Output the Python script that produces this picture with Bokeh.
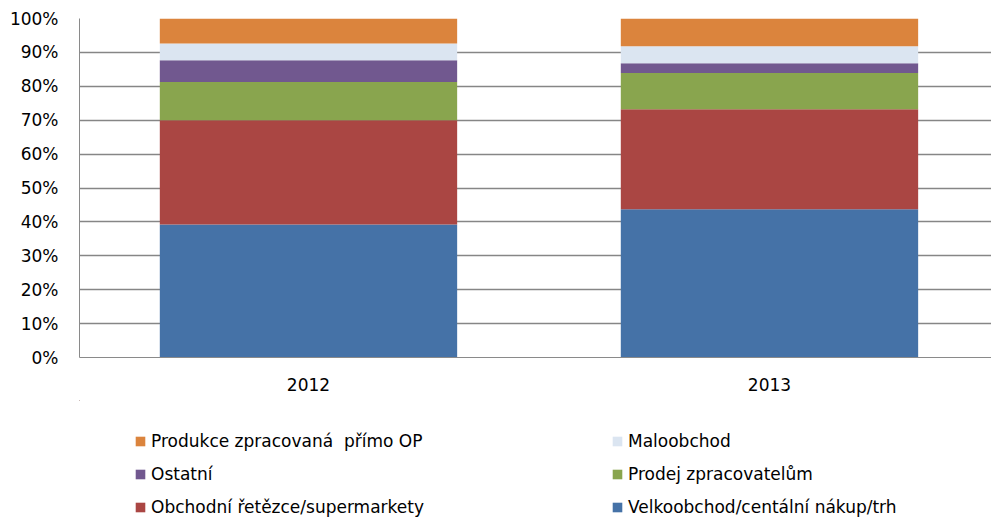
from bokeh.plotting import figure
from bokeh.layouts import column
from bokeh.models import ColumnDataSource, Range1d, FixedTicker, Legend, LegendItem, PrintfTickFormatter
from bokeh.embed import file_html
from bokeh.resources import INLINE

# ---- data ----
years = ["2012", "2013"]
series = [
    "Velkoobchod/centální nákup/trh",
    "Obchodní řetězce/supermarkety",
    "Prodej zpracovatelům",
    "Ostatní",
    "Maloobchod",
    "Produkce zpracovaná  přímo OP",
]
velkoobchod = [39.2, 43.7]
obchodni = [30.8, 29.5]
prodej = [11.3, 10.7]
ostatni = [6.4, 2.9]
maloobchod = [4.9, 5.0]
produkce = [7.4, 8.2]
y_ticks = [0, 10, 20, 30, 40, 50, 60, 70, 80, 90, 100]
# legend is filled column by column: left column first, then right column
legend_order = [
    "Produkce zpracovaná  přímo OP", "Ostatní", "Obchodní řetězce/supermarkety",
    "Maloobchod", "Prodej zpracovatelům", "Velkoobchod/centální nákup/trh",
]

colors = ["#4572A7", "#AA4643", "#89A54E", "#71588F", "#DBE5F1", "#DB843D"]
FONT = "DejaVu Sans"

keys = ["s0", "s1", "s2", "s3", "s4", "s5"]
xpos = list(range(len(years)))
src = ColumnDataSource(dict(x=xpos, s0=velkoobchod, s1=obchodni, s2=prodej,
                            s3=ostatni, s4=maloobchod, s5=produkce))

# ---- main chart ----
p = figure(width=991, height=400, output_backend="svg", toolbar_location=None,
           x_range=Range1d(-0.4967, 1.4816), y_range=Range1d(0, 100),
           min_border_left=79, min_border_right=0, min_border_top=18, min_border_bottom=43)
p.outline_line_color = None
p.background_fill_color = "white"
p.border_fill_color = "white"

rs = p.vbar_stack(keys, x="x", width=0.645, source=src, color=colors, line_color=None)

p.xaxis.ticker = FixedTicker(ticks=xpos)
p.xaxis.major_label_overrides = {i: y for i, y in zip(xpos, years)}
p.yaxis.ticker = FixedTicker(ticks=y_ticks)
p.yaxis.formatter = PrintfTickFormatter(format="%d%%")
for ax in (p.xaxis[0], p.yaxis[0]):
    ax.axis_line_color = "#8a8a8a"
    ax.axis_line_width = 1
    ax.major_tick_line_color = None
    ax.minor_tick_line_color = None
    ax.major_tick_out = 0
    ax.major_tick_in = 0
    ax.major_label_text_font = FONT
    ax.major_label_text_font_size = "17px"
    ax.major_label_text_color = "#000000"
p.yaxis.major_label_standoff = 21
p.xaxis.major_label_standoff = 20

p.xgrid.grid_line_color = None
p.ygrid.ticker = FixedTicker(ticks=y_ticks)
p.ygrid.grid_line_color = "#868686"
p.ygrid.grid_line_width = 1.5

# ---- legend strip (same series, glyphs kept out of view; only the legend shows) ----
q = figure(width=991, height=117, output_backend="svg", toolbar_location=None,
           x_range=Range1d(100, 101), y_range=Range1d(-1000, -999),
           min_border_left=0, min_border_right=0, min_border_top=0, min_border_bottom=0)
q.axis.visible = False
q.grid.visible = False
q.outline_line_color = None
q.background_fill_color = "white"
q.border_fill_color = "white"
qs = q.vbar_stack(keys, x="x", width=0.645, source=src, color=colors, line_color=None)
name_to_r = {n: r for n, r in zip(series, qs)}

items = [LegendItem(label=n, renderers=[name_to_r[n]]) for n in legend_order]
legend = Legend(items=items, ncols=2, location=(55, 0),
                glyph_width=12, glyph_height=12, label_standoff=5,
                label_height=20, label_width=447, spacing=13,
                padding=0, margin=0, border_line_color=None, background_fill_alpha=0,
                label_text_font=FONT, label_text_font_size="17px", label_text_color="#000000")
q.add_layout(legend, "center")

layout = column(p, q, spacing=0)
open("out.html", "w").write(file_html(layout, INLINE))
